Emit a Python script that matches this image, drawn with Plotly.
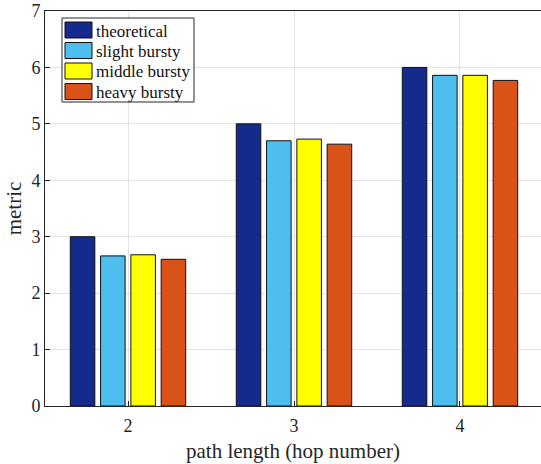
import plotly.graph_objects as go

categories = [2, 3, 4]
series_names = ["theoretical", "slight bursty", "middle bursty", "heavy bursty"]
theoretical = [3.0, 5.0, 6.0]
slight_bursty = [2.66, 4.70, 5.86]
middle_bursty = [2.68, 4.73, 5.86]
heavy_bursty = [2.60, 4.64, 5.77]
y_ticks = [0, 1, 2, 3, 4, 5, 6, 7]

series_values = [theoretical, slight_bursty, middle_bursty, heavy_bursty]
colors = ["#142a8c", "#4dbeee", "#ffff00", "#d95319"]
FONT = "'Liberation Serif', 'Times New Roman', 'DejaVu Serif', serif"

fig = go.Figure()
for name, vals, col in zip(series_names, series_values, colors):
    fig.add_trace(go.Bar(x=categories, y=vals, name=name,
                         marker=dict(color=col, line=dict(color="#111111", width=1)), showlegend=False))

W, H = 541, 464
ml, mr, mt, mb = 45, 0, 11, 58
pw, ph = W - ml - mr, H - mt - mb


def px(x):  # page x -> paper
    return (x - ml) / pw


def py(y):  # page y -> paper
    return 1 - (y - mt) / ph


shapes = [dict(type="rect", xref="paper", yref="paper", x0=px(62), x1=px(194), y0=py(102), y1=py(18),
               line=dict(color="#262626", width=1), fillcolor="white", layer="above")]
annotations = []
row_h = 20.5
for i, (name, col) in enumerate(zip(series_names, colors)):
    cy = 30 + i * row_h
    shapes.append(dict(type="rect", xref="paper", yref="paper", x0=px(65), x1=px(92), y0=py(cy + 8), y1=py(cy - 8),
                       line=dict(color="#111111", width=1), fillcolor=col, layer="above"))
    annotations.append(dict(xref="paper", yref="paper", x=px(94), y=py(cy + 1), text=name, showarrow=False,
                            xanchor="left", yanchor="middle", font=dict(family=FONT, size=17, color="#111111")))

fig.update_layout(
    width=W, height=H, margin=dict(l=ml, r=mr, t=mt, b=mb, pad=0),
    plot_bgcolor="white", paper_bgcolor="white",
    barmode="group", bargap=0.27, bargroupgap=0.19,
    font=dict(family=FONT, size=16, color="#262626"),
    shapes=shapes, annotations=annotations,
    xaxis=dict(range=[1.5, 4.488], tickvals=categories, ticktext=[str(c) for c in categories],
               showgrid=True, gridcolor="#e3e3e3", gridwidth=1, showline=True, linecolor="#262626", linewidth=1,
               mirror=True, ticks="inside", ticklen=5, tickcolor="#262626", tickfont=dict(size=18),
               ticklabelstandoff=3,
               title=dict(text="path length (hop number)", font=dict(size=21), standoff=8), zeroline=False),
    yaxis=dict(range=[0, 7], tickvals=y_ticks, showgrid=True, gridcolor="#e3e3e3", gridwidth=1, showline=True,
               linecolor="#262626", linewidth=1, mirror=True, ticks="inside", ticklen=5, tickcolor="#262626",
               tickfont=dict(size=18), title=dict(text="metric", font=dict(size=21), standoff=4), zeroline=False),
)

fig.write_html("out.html", config={"displayModeBar": False},
               post_script="document.body.style.margin='0';document.body.style.padding='0';")
